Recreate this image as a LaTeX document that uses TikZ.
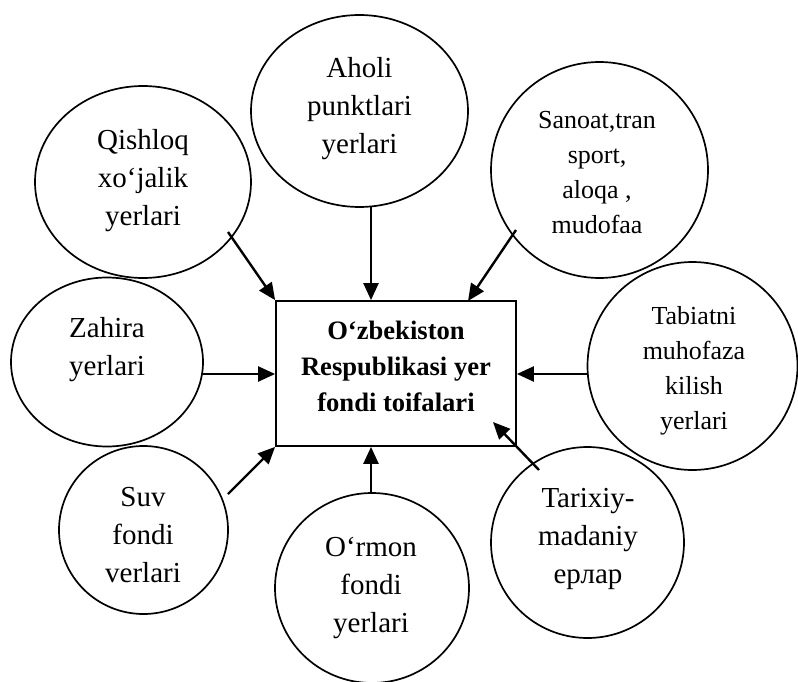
\documentclass[tikz,border=0pt]{standalone}
\usepackage{fontspec}
\setmainfont{Liberation Serif}
\usetikzlibrary{arrows.meta,shapes.geometric}

\begin{document}
\begin{tikzpicture}[x=1pt,y=-1pt,
  oval/.style={draw, ellipse, line width=1.7pt, inner sep=0pt},
  lbl/.style={align=center, inner sep=0pt, font=\fontsize{29}{38}\selectfont},
  lblsm/.style={align=center, inner sep=0pt, font=\fontsize{26}{35}\selectfont},
  link/.style={line width=2.4pt, -{Triangle[length=17pt,width=15pt]}}]
\useasboundingbox (0,0) rectangle (798,682);

% central box
\node[draw, line width=1.8pt, minimum width=240pt, minimum height=145pt, inner sep=0pt] (box) at (396,373.5) {};
\node[align=center, inner sep=0pt, font=\bfseries\fontsize{26.6}{36}\selectfont] (boxt) at (396,366) {O‘zbekiston\\Respublikasi yer\\fondi toifalari};

% land categories
\node[oval, minimum width=216pt, minimum height=192pt] (qis) at (143,182) {};
\node[lbl] (qist) at (143,181) {Qishloq\\xo‘jalik\\yerlari};

\node[oval, minimum width=217pt, minimum height=192pt] (aho) at (359.5,111) {};
\node[lbl] (ahot) at (359.5,109) {Aholi\\punktlari\\yerlari};

\node[oval, minimum width=217pt, minimum height=216pt] (san) at (599.5,170) {};
\node[lblsm] (sant) at (597,173) {Sanoat,tran\\sport,\\aloqa ,\\mudofaa};

\node[oval, minimum width=192pt, minimum height=169pt] (zah) at (107,362) {};
\node[lbl] (zaht) at (107,350) {Zahira\\yerlari};

\node[oval, minimum width=210pt, minimum height=208pt] (tab) at (692.5,366) {};
\node[lblsm] (tabt) at (694,371) {Tabiatni\\muhofaza\\kilish\\yerlari};

\node[oval, minimum width=169pt, minimum height=168pt] (suv) at (143.5,530) {};
\node[lbl] (suvt) at (143,535) {Suv\\fondi\\verlari};

\node[oval, minimum width=194pt, minimum height=190pt] (orm) at (372,588) {};
\node[lbl] (ormt) at (371,588) {O‘rmon\\fondi\\yerlari};

\node[oval, minimum width=193pt, minimum height=191pt] (tar) at (587.5,542.5) {};
\node[lbl] (tart) at (588,539) {Tarixiy-\\madaniy\\ерлар};

% arrow ends
\coordinate (qis-out) at (228,232);
\coordinate (aho-out) at (371,207);
\coordinate (san-out) at (516,230);
\coordinate (san-in)  at (468,301);
\coordinate (zah-out) at (203,374);
\coordinate (tab-out) at (587,374);
\coordinate (suv-out) at (228,494);
\coordinate (orm-out) at (371,494);
\coordinate (tar-out) at (539,470);
\coordinate (tar-in)  at (493,422);

% connectors
\draw[link] (qis-out) -- (box.north west);
\draw[link] (aho-out) -- (aho-out |- box.north);
\draw[link] (san-out) -- (san-in);
\draw[link] (zah-out) -- (zah-out -| box.west);
\draw[link] (tab-out) -- (tab-out -| box.east);
\draw[link] (suv-out) -- (box.south west);
\draw[link] (orm-out) -- (orm-out |- box.south);
\draw[link] (tar-out) -- (tar-in);
\end{tikzpicture}
\end{document}
